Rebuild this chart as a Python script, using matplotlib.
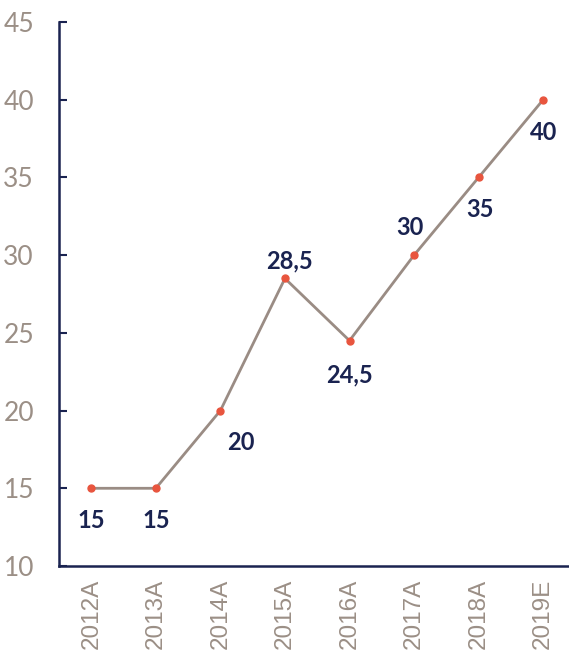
import matplotlib
matplotlib.use("Agg")
import matplotlib.pyplot as plt

# chart data
years = ['2012A', '2013A', '2014A', '2015A', '2016A', '2017A', '2018A', '2019E']
values = [15, 15, 20, 28.5, 24.5, 30, 35, 40]
value_labels = ['15', '15', '20', '28,5', '24,5', '30', '35', '40']
# label offsets in pixels (dx, dy)
label_offsets = [(0, -30), (0, -30), (20, -30), (5, 20), (0, -32), (-4, 30), (1, -30), (0, -31)]

NAVY = '#1a2350'
GREY = '#9b8f86'
LINE = '#9a8c84'
RED = '#e8553e'

fig = plt.figure(figsize=(5.69, 6.56), dpi=100)
ax = fig.add_axes([59 / 569, 90 / 656, 1 - 59 / 569, (566 - 22) / 656])

x = list(range(len(years)))
ax.plot(x, values, color=LINE, linewidth=2, zorder=2)
ax.plot(x, values, linestyle='none', marker='o', markersize=5,
        color=RED, zorder=3)

for xi, v, lab, (dx, dy) in zip(x, values, value_labels, label_offsets):
    ax.annotate(lab, (xi, v), xytext=(dx, dy), textcoords='offset pixels',
                ha='center', va='center_baseline', fontsize=17, fontweight='bold',
                color=NAVY, family='Lato')

ax.set_xlim(-0.5, 7.4)
ax.set_ylim(10, 45)
ax.set_yticks(range(10, 46, 5))
ax.set_xticks(x)
ax.set_xticklabels(years, rotation=90, fontsize=17.5, color=GREY,
                   family='Liberation Sans', va='top')
ax.tick_params(axis='x', length=0, pad=9)
ax.tick_params(axis='y', direction='in', length=6, width=1.5, color=NAVY,
               labelsize=19, labelcolor=GREY, pad=18)
for t in ax.get_yticklabels():
    t.set_family('Lato')

for side in ['top', 'right']:
    ax.spines[side].set_visible(False)
for side in ['left', 'bottom']:
    ax.spines[side].set_color(NAVY)
    ax.spines[side].set_linewidth(1.8)

fig.savefig('out.png', dpi=100)
